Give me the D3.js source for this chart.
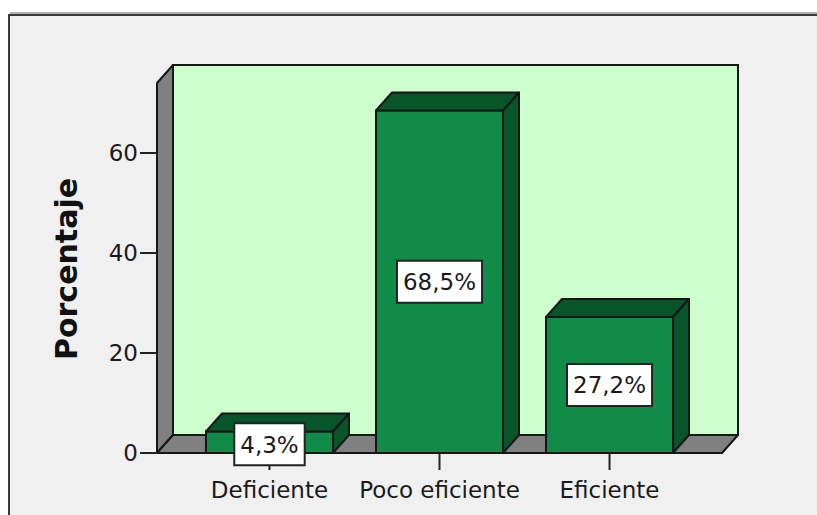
<!DOCTYPE html>
<html><head><meta charset="utf-8">
<script src="https://cdn.jsdelivr.net/npm/d3@7"></script>
<style>html,body{margin:0;padding:0;background:#fff;}svg{display:block;}</style>
</head><body>
<script>
const categories = ["Deficiente", "Poco eficiente", "Eficiente"];
const values = [4.3, 68.5, 27.2];
const yTicks = [0, 20, 40, 60];
const yTitle = "Porcentaje";

const W = 817, H = 515;
const dx = 16, dy = 18;
const svg = d3.select("body").append("svg").attr("width", W).attr("height", H);

// outer frame
svg.append("rect").attr("x", 9).attr("y", 15).attr("width", 900).attr("height", 600)
  .attr("fill", "#f0f0f0").attr("stroke", "#3a3a3a").attr("stroke-width", 2);
svg.append("line").attr("x1", 10).attr("x2", 817).attr("y1", 13).attr("y2", 13)
  .attr("stroke", "#9a9a9a").attr("stroke-width", 1.5);

const x = d3.scaleBand().domain(categories).range([157, 722]).paddingInner(0.253).paddingOuter(0.288);
const y = d3.scaleLinear().domain([0, 74]).range([453, 83]);
const y0 = y(0), yTop = y(74), xL = 157, xR = 722;
const stroke = "#161616", sw = 2;

// back wall
svg.append("rect").attr("x", xL + dx).attr("y", yTop - dy).attr("width", xR - xL).attr("height", y0 - yTop)
  .attr("fill", "#ccffcc").attr("stroke", stroke).attr("stroke-width", sw);
// left wall
svg.append("polygon").attr("points", [[xL, y0], [xL, yTop], [xL + dx, yTop - dy], [xL + dx, y0 - dy]].join(" "))
  .attr("fill", "#808080").attr("stroke", stroke).attr("stroke-width", sw).attr("stroke-linejoin", "round");
// floor
svg.append("polygon").attr("points", [[xL, y0], [xL + dx, y0 - dy], [xR + dx, y0 - dy], [xR, y0]].join(" "))
  .attr("fill", "#808080").attr("stroke", stroke).attr("stroke-width", sw).attr("stroke-linejoin", "round");

// y axis ticks
const yt = svg.append("g");
yt.selectAll("line").data(yTicks).join("line")
  .attr("x1", 140).attr("x2", xL).attr("y1", d => y(d)).attr("y2", d => y(d))
  .attr("stroke", "#222").attr("stroke-width", 2);
yt.selectAll("text").data(yTicks).join("text")
  .attr("x", 138).attr("y", d => y(d)).attr("dy", "0.36em").attr("text-anchor", "end")
  .attr("font-family", "DejaVu Sans").attr("font-size", 23).attr("fill", "#1a1a1a").text(d => d);

// x axis ticks and labels
const xt = svg.append("g");
xt.selectAll("line").data(categories).join("line")
  .attr("x1", d => x(d) + x.bandwidth() / 2).attr("x2", d => x(d) + x.bandwidth() / 2)
  .attr("y1", y0).attr("y2", y0 + 17).attr("stroke", "#222").attr("stroke-width", 2);
xt.selectAll("text").data(categories).join("text")
  .attr("x", d => x(d) + x.bandwidth() / 2).attr("y", 498).attr("text-anchor", "middle")
  .attr("font-family", "DejaVu Sans").attr("font-size", 23).attr("fill", "#1a1a1a").text(d => d);

// bars
const data = categories.map((c, i) => ({ c, v: values[i] }));
const bars = svg.append("g").selectAll("g").data(data).join("g");
bars.append("rect")
  .attr("x", d => x(d.c)).attr("y", d => y(d.v)).attr("width", x.bandwidth()).attr("height", d => y0 - y(d.v))
  .attr("fill", "#108b48").attr("stroke", stroke).attr("stroke-width", sw);
bars.append("polygon")
  .attr("points", d => { const a = x(d.c), b = a + x.bandwidth(), t = y(d.v);
    return [[a, t], [a + dx, t - dy], [b + dx, t - dy], [b, t]].join(" "); })
  .attr("fill", "#075529").attr("stroke", stroke).attr("stroke-width", sw).attr("stroke-linejoin", "round");
bars.append("polygon")
  .attr("points", d => { const b = x(d.c) + x.bandwidth(), t = y(d.v);
    return [[b, t], [b + dx, t - dy], [b + dx, y0 - dy], [b, y0]].join(" "); })
  .attr("fill", "#075529").attr("stroke", stroke).attr("stroke-width", sw).attr("stroke-linejoin", "round");

// value labels
const fmt = d3.formatLocale({ decimal: ",", thousands: ".", grouping: [3], currency: ["", ""] }).format(".1f");
const labels = svg.append("g").selectAll("g").data(data).join("g")
  .attr("transform", d => {
    const h = y0 - y(d.v);
    const cy = (y(d.v) + y0) / 2 + (h < 42 ? 2 : 0);
    return `translate(${x(d.c) + x.bandwidth() / 2},${cy})`;
  });
const lt = labels.append("text").attr("text-anchor", "middle").attr("dy", "0.36em")
  .attr("font-family", "DejaVu Sans").attr("font-size", 23).attr("fill", "#1a1a1a")
  .text(d => fmt(d.v) + "%");
lt.each(function () {
  const w = this.getComputedTextLength();
  d3.select(this.parentNode).insert("rect", "text")
    .attr("x", -w / 2 - 6).attr("y", -21).attr("width", w + 12).attr("height", 42)
    .attr("fill", "#fff").attr("stroke", "#222").attr("stroke-width", 2);
});

// y title
svg.append("text").attr("transform", "translate(77,269) rotate(-90)").attr("text-anchor", "middle")
  .attr("font-family", "DejaVu Sans").attr("font-weight", "bold").attr("font-size", 30).attr("fill", "#111")
  .text(yTitle);
</script>
</body></html>
